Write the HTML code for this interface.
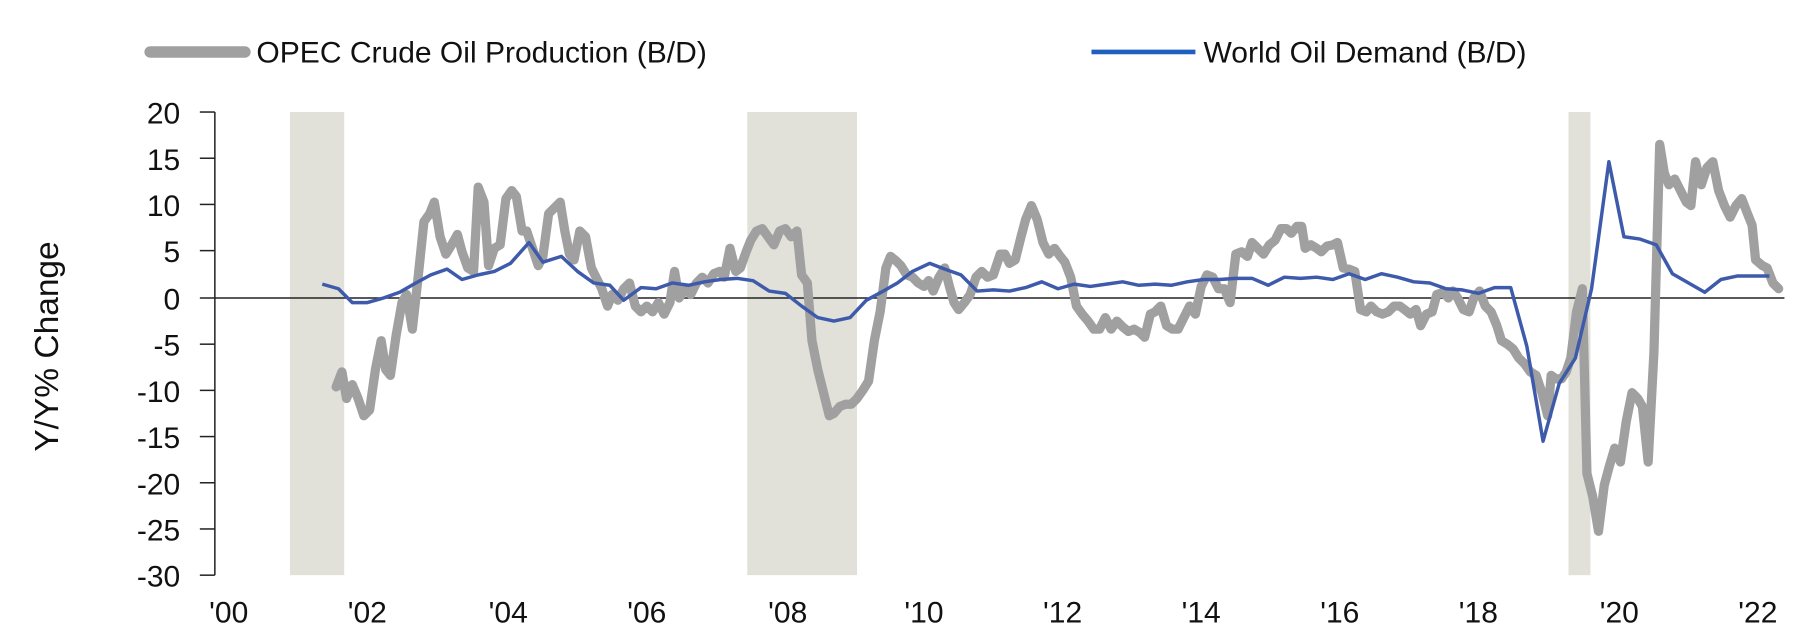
<!DOCTYPE html>
<html><head><meta charset="utf-8"><style>
html,body{margin:0;padding:0;background:#fff;width:1801px;height:641px;overflow:hidden}
svg{display:block}
text{font-family:"Liberation Sans",sans-serif;fill:#111}
</style></head><body>
<svg width="1801" height="641" viewBox="0 0 1559.3 555" xmlns="http://www.w3.org/2000/svg">
<rect x="251" y="97" width="47" height="401" fill="#e1e1d9"/>
<rect x="647" y="97" width="95" height="401" fill="#e1e1d9"/>
<rect x="1358" y="97" width="19" height="401" fill="#e1e1d9"/>
<g stroke="#222" stroke-width="1.3">
<line x1="186" y1="97" x2="186" y2="498"/>
<line x1="173" y1="258" x2="1545" y2="258"/>
<line x1="173" y1="97" x2="186" y2="97"/><line x1="173" y1="137" x2="186" y2="137"/>
<line x1="173" y1="177" x2="186" y2="177"/><line x1="173" y1="217" x2="186" y2="217"/>
<line x1="173" y1="298" x2="186" y2="298"/><line x1="173" y1="338" x2="186" y2="338"/>
<line x1="173" y1="378" x2="186" y2="378"/><line x1="173" y1="418" x2="186" y2="418"/>
<line x1="173" y1="458" x2="186" y2="458"/><line x1="173" y1="498" x2="186" y2="498"/>
</g>
<g font-size="26" text-anchor="end">
<text x="156" y="107">20</text><text x="156" y="147">15</text><text x="156" y="187">10</text>
<text x="156" y="227">5</text><text x="156" y="268">0</text><text x="156" y="308">-5</text>
<text x="156" y="348">-10</text><text x="156" y="388">-15</text><text x="156" y="428">-20</text>
<text x="156" y="468">-25</text><text x="156" y="508">-30</text>
</g>
<text transform="translate(50,300) rotate(-90)" font-size="29" text-anchor="middle">Y/Y% Change</text>
<g font-size="26" text-anchor="middle">
<text x="198" y="539">'00</text><text x="318" y="539">'02</text><text x="440" y="539">'04</text>
<text x="560" y="539">'06</text><text x="682" y="539">'08</text><text x="800" y="539">'10</text>
<text x="920" y="539">'12</text><text x="1040" y="539">'14</text><text x="1160" y="539">'16</text>
<text x="1280" y="539">'18</text><text x="1402" y="539">'20</text><text x="1522" y="539">'22</text>
</g>
<line x1="130" y1="45" x2="212" y2="45" stroke="#a0a0a0" stroke-width="10" stroke-linecap="round"/>
<text x="222" y="54" font-size="26">OPEC Crude Oil Production (B/D)</text>
<line x1="945" y1="45" x2="1035" y2="45" stroke="#1f5fbf" stroke-width="4"/>
<text x="1042" y="54" font-size="26">World Oil Demand (B/D)</text>
<polyline fill="none" stroke="#a0a0a0" stroke-width="8" stroke-linejoin="round" stroke-linecap="round" points="291,335 296,322 300,345 305,333 310,345 315,360 320,355 325,320 330,295 334,320 338,325 343,290 348,262 352,255 357,285 362,240 367,192 372,185 376,175 381,205 386,220 391,212 396,203 400,218 405,232 410,235 414,162 419,175 423,230 428,215 433,212 438,172 443,165 447,170 452,200 456,200 461,215 466,230 470,222 475,185 480,180 485,175 489,200 493,220 497,225 502,200 507,205 512,232 516,240 521,250 526,265 530,255 535,260 540,250 545,245 550,265 555,270 560,265 565,270 570,262 575,272 580,262 584,235 588,258 593,250 598,255 603,245 608,240 613,245 618,237 623,235 627,240 632,215 637,235 641,232 646,218 650,208 655,200 660,198 665,205 670,212 675,200 680,198 685,205 690,200 694,238 699,245 703,295 708,320 713,340 718,360 722,358 727,352 732,350 737,350 742,345 747,338 752,330 757,295 762,270 767,232 771,222 776,226 780,230 785,238 790,240 795,245 800,248 804,243 808,252 813,240 818,232 822,248 826,262 830,268 835,262 840,255 845,240 850,235 855,240 860,238 866,220 870,220 874,228 879,225 884,205 888,190 893,178 898,190 903,210 908,220 913,215 918,222 922,227 927,240 932,265 937,272 942,278 947,285 952,285 957,275 962,285 967,278 972,283 977,287 982,285 987,288 991,292 996,272 1000,270 1005,265 1010,282 1015,285 1020,285 1025,275 1030,265 1035,272 1040,248 1045,238 1050,240 1055,250 1060,250 1065,262 1070,220 1075,218 1080,222 1084,210 1089,215 1094,220 1099,212 1104,208 1109,198 1114,198 1118,202 1123,196 1127,196 1130,215 1135,212 1140,215 1144,218 1149,213 1154,212 1158,210 1163,232 1168,233 1173,235 1178,268 1183,270 1187,265 1192,270 1197,272 1202,270 1207,265 1212,265 1216,268 1221,272 1226,268 1230,282 1235,272 1240,270 1244,255 1250,253 1254,258 1258,252 1262,258 1267,268 1272,270 1276,258 1281,252 1286,265 1291,270 1296,282 1300,295 1305,298 1310,302 1315,310 1320,315 1325,322 1330,325 1335,340 1340,360 1343,325 1347,328 1352,328 1356,322 1360,310 1365,270 1370,250 1374,410 1379,430 1384,460 1389,420 1393,405 1398,388 1403,400 1408,365 1413,340 1418,345 1422,352 1427,400 1432,305 1437,125 1441,150 1445,160 1450,155 1455,165 1460,175 1464,178 1468,140 1473,160 1478,145 1483,140 1488,165 1493,178 1498,188 1503,178 1508,172 1513,185 1517,195 1520,225 1526,230 1530,232 1535,245 1540,250"/>
<polyline fill="none" stroke="#3d5aab" stroke-width="3" stroke-linejoin="round" points="279,246 293,250 305,262 318,262 332,258 346,253 360,245 373,238 387,233 400,242 414,238 428,235 442,228 458,210 470,227 486,222 500,235 514,245 528,247 540,260 555,249 568,250 582,245 596,247 610,244 624,242 638,241 652,243 666,252 680,254 694,265 708,275 722,278 736,275 750,260 763,253 777,245 790,235 805,228 818,233 832,238 846,252 860,251 874,252 888,249 902,244 916,250 930,246 944,248 958,246 972,244 986,247 1000,246 1014,247 1028,244 1042,242 1056,242 1070,241 1084,241 1098,247 1112,240 1126,241 1140,240 1154,242 1168,237 1182,242 1196,237 1210,240 1224,244 1238,245 1252,250 1266,251 1280,254 1294,249 1308,249 1322,300 1336,382 1350,332 1364,310 1378,250 1393,140 1406,205 1420,207 1434,212 1448,237 1462,245 1476,253 1490,242 1504,239 1518,239 1532,239"/>
</svg>
</body></html>
